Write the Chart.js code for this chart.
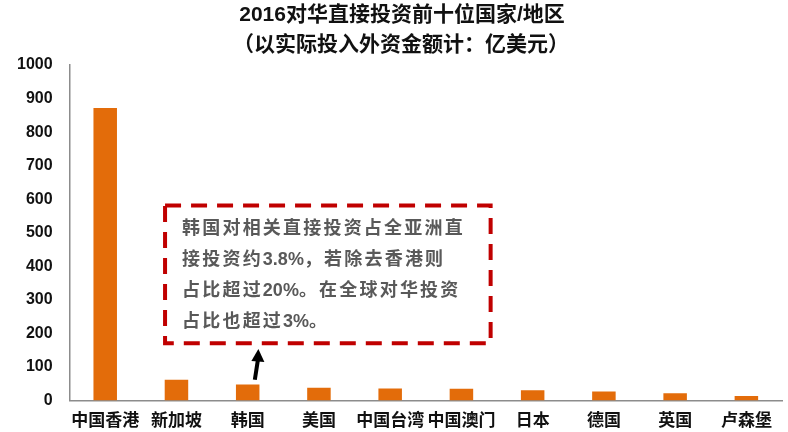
<!DOCTYPE html>
<html>
<head>
<meta charset="utf-8">
<script src="https://cdn.jsdelivr.net/npm/chart.js@4.4.1/dist/chart.umd.min.js"></script>
<style>
  html, body { margin: 0; padding: 0; background: #fff; }
  #wrap { width: 788px; height: 432px; }
</style>
</head>
<body>
<div id="wrap"><canvas id="graph"></canvas></div>
<script>
// 2016 top ten sources of FDI into China (100 million USD)
const regions = ['中国香港', '新加坡', '韩国', '美国', '中国台湾', '中国澳门', '日本', '德国', '英国', '卢森堡'];
const fdiValues = [872, 62, 48, 38, 36, 35, 31, 27, 22, 14];
const yTicks = [0, 100, 200, 300, 400, 500, 600, 700, 800, 900, 1000];

const titleText = '2016对华直接投资前十位国家/地区';
const subtitleText = '（以实际投入外资金额计：亿美元）';
const noteLines = [
    '韩国对相关直接投资占全亚洲直',
    '接投资约3.8%，若除去香港则',
    '占比超过20%。在全球对华投资',
    '占比也超过3%。'
];

const latin = '"Liberation Sans", Arial, "Noto Sans CJK SC", sans-serif';

// writes a line with wide CJK spacing but normal latin digits
function drawNoteLine(ctx, text, x, y) {
    let cx = x;
    for (const ch of text) {
        ctx.fillText(ch, cx, y);
        if (/[\u3000-\u9fff\uff00-\uffef]/.test(ch)) cx += 20.2;
        else cx += ctx.measureText(ch).width;
    }
}

// the two title lines sit a little right of the canvas centre in the original
const titlePlugin = {
    id: 'titles',
    afterDraw(chart) {
        const ctx = chart.ctx;
        ctx.save();
        ctx.fillStyle = '#111';
        ctx.textAlign = 'center';
        ctx.textBaseline = 'middle';
        ctx.font = 'bold 21px ' + latin;
        ctx.fillText(titleText, 402, 15);
        ctx.fillText(subtitleText, 401, 45);
        ctx.restore();
    }
};

// dashed call-out box and arrow pointing at the Korea bar, placed in axis units
const notePlugin = {
    id: 'note',
    afterDatasetsDraw(chart) {
        const {ctx, scales: {x, y}} = chart;
        const left = x.getPixelForValue(0.84);
        const right = x.getPixelForValue(5.41);
        const top = y.getPixelForValue(581);
        const bottom = y.getPixelForValue(171);

        ctx.save();
        ctx.strokeStyle = '#C00000';
        ctx.lineWidth = 4;
        ctx.setLineDash([16, 10]);
        ctx.strokeRect(left, top, right - left, bottom - top);
        ctx.setLineDash([]);

        ctx.fillStyle = '#595959';
        ctx.font = 'bold 18px ' + latin;
        ctx.textBaseline = 'middle';
        ctx.textAlign = 'left';
        for (let i = 0; i < noteLines.length; i++) {
            drawNoteLine(ctx, noteLines[i], left + 17, top + 23 + i * 31);
        }

        // arrow
        const x0 = x.getPixelForValue(2.10), y0 = y.getPixelForValue(62);
        const x1 = x.getPixelForValue(2.15), y1 = y.getPixelForValue(154);
        ctx.strokeStyle = '#000';
        ctx.fillStyle = '#000';
        ctx.lineWidth = 4;
        ctx.beginPath();
        ctx.moveTo(x0, y0);
        ctx.lineTo(x1, y1 + 8);
        ctx.stroke();
        ctx.beginPath();
        ctx.moveTo(x1, y1);
        ctx.lineTo(x1 - 7, y1 + 12);
        ctx.lineTo(x1 + 6, y1 + 13);
        ctx.closePath();
        ctx.fill();
        ctx.restore();
    }
};

document.addEventListener('DOMContentLoaded', function () {
    const graph = document.getElementById('graph');

    new Chart(graph, {
        type: 'bar',
        data: {
            labels: regions,
            datasets: [{
                label: '实际投入外资金额',
                data: fdiValues,
                backgroundColor: '#E36C0A',
                barPercentage: 0.33,
                categoryPercentage: 1.0
            }]
        },
        options: {
            responsive: true,
            maintainAspectRatio: false,
            animation: false,
            layout: {padding: {left: 0, right: 6, top: 65, bottom: -11}},
            plugins: {
                legend: {display: false},
                tooltip: {enabled: false},
                title: {display: false},
                subtitle: {display: false}
            },
            scales: {
                y: {
                    min: 0,
                    max: 1000,
                    afterBuildTicks: function (axis) {
                        axis.ticks = yTicks.map(v => ({value: v}));
                    },
                    grid: {display: false, drawTicks: false},
                    border: {display: true, color: '#8c8c8c', width: 1.5},
                    ticks: {
                        color: '#111',
                        padding: 17,
                        font: {family: latin, size: 16, weight: 'bold'},
                        callback: function (value) { return String(value); }
                    }
                },
                x: {
                    grid: {display: false, drawTicks: false},
                    border: {display: true, color: '#8c8c8c', width: 1.5},
                    ticks: {
                        color: '#111',
                        padding: 11,
                        maxRotation: 0,
                        autoSkip: false,
                        font: {family: latin, size: 17, weight: 'bold'}
                    }
                }
            }
        },
        plugins: [notePlugin, titlePlugin]
    });
});
</script>
</body>
</html>
